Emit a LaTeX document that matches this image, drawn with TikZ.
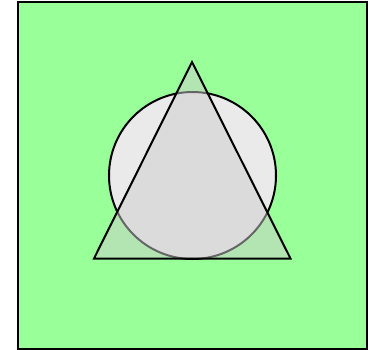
\documentclass[tikz,border=0pt]{standalone}
\definecolor{prat}{HTML}{99FF99}
\definecolor{disc}{HTML}{EAEAEA}
\definecolor{vel}{HTML}{CDCDCD}
\tikzset{
  marc/.style={draw=black, fill=prat, line width=2pt},
  cercle/.style={draw=black, fill=disc, line width=2pt},
  triangle/.style={draw=black, fill=vel, fill opacity=.5, line width=2pt, line join=miter},
}

\begin{document}
\begin{tikzpicture}[x=1pt,y=-1pt]
  \useasboundingbox (0,0) rectangle (372,350);
  \draw[marc] (18,2.5) rectangle (366.5,348.5);
  \draw[cercle] (192.5,175.5) circle (83.5);
  \coordinate (A) at (192,62);
  \coordinate (B) at (94,258.5);
  \coordinate (C) at (290.5,258.5);
  \draw[triangle] (A)--(B)--(C)--cycle;
\end{tikzpicture}
\end{document}
